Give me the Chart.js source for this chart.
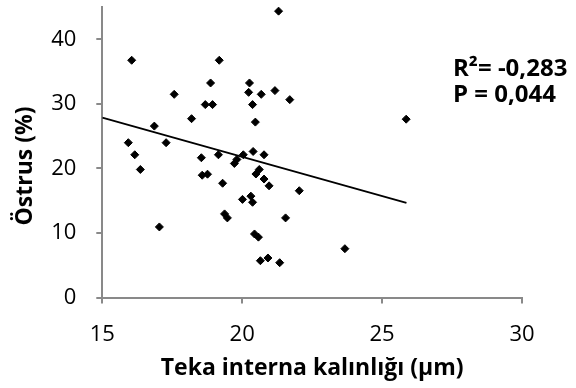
<!DOCTYPE html>
<html>
<head>
<meta charset="utf-8">
<script src="https://cdn.jsdelivr.net/npm/chart.js@4/dist/chart.umd.min.js"></script>
<style>
  html, body { margin: 0; padding: 0; background: #fff; }
  #wrap { width: 576px; height: 388px; }
</style>
</head>
<body>
<div id="wrap"><canvas id="estrusChart" width="576" height="388"></canvas></div>
<script>
// Theca interna thickness (µm) against oestrus rate (%)
const thicknessValues = [16.05, 19.18, 21.30, 18.87, 17.57, 20.26, 20.23, 20.68, 21.17, 21.70,
    18.68, 18.94, 20.37, 18.19, 20.47, 16.86, 25.86, 15.93, 17.28, 16.16,
    16.36, 17.04, 18.54, 19.15, 19.72, 19.81, 20.04, 20.39, 20.78, 18.57,
    18.76, 19.30, 19.37, 19.47, 20.61, 20.49, 20.78, 20.96, 22.04, 20.01,
    20.31, 20.37, 21.55, 20.44, 20.58, 23.67, 20.65, 20.92, 21.34];
const estrusValues = [36.75, 36.75, 44.36, 33.23, 31.47, 33.23, 31.78, 31.47, 32.05, 30.65,
    29.88, 29.88, 29.88, 27.70, 27.17, 26.55, 27.62, 23.98, 23.98, 22.11,
    19.83, 10.93, 21.65, 22.11, 20.76, 21.38, 22.11, 22.62, 22.11, 18.94,
    19.10, 17.70, 12.95, 12.33, 19.83, 19.13, 18.35, 17.30, 16.54, 15.20,
    15.70, 14.75, 12.33, 9.84, 9.35, 7.56, 5.70, 6.12, 5.39];

// linear trend line end points
const trendX = [15, 25.87];
const trendY = [27.86, 14.66];

const xTicks = [15, 20, 25, 30];
const yTicks = [0, 10, 20, 30, 40];
const statLines = ['R\u00B2= -0,283', 'P = 0,044'];
const yTitle = 'Östrus (%)';

const scatterPoints = thicknessValues.map((x, i) => ({ x: x, y: estrusValues[i] }));
const trendPoints = trendX.map((x, i) => ({ x: x, y: trendY[i] }));

const axisGrey = '#898989';
const fontFamily = '"Open Sans", Lato, sans-serif';

// y axis title plus the R² / P values beside the plot
const extraText = {
    id: 'extraText',
    afterDraw(chart) {
        const ctx = chart.ctx;
        ctx.save();
        ctx.fillStyle = '#000';

        ctx.font = 'bold 24px ' + fontFamily;
        ctx.textBaseline = 'alphabetic';
        ctx.textAlign = 'left';
        ctx.fillText(statLines[0], 453, 76);
        ctx.fillText(statLines[1], 453, 102);

        ctx.font = 'bold 23px ' + fontFamily;
        ctx.translate(25, 166);
        ctx.rotate(-Math.PI / 2);
        ctx.textAlign = 'center';
        ctx.textBaseline = 'middle';
        ctx.fillText(yTitle, 0, 0);
        ctx.restore();
    }
};

new Chart(document.getElementById('estrusChart'), {
    type: 'scatter',
    data: {
        datasets: [
            {
                data: scatterPoints,
                pointStyle: 'rectRot',
                pointRadius: 4,
                pointBorderWidth: 1,
                backgroundColor: '#000',
                borderColor: '#000'
            },
            {
                data: trendPoints,
                showLine: true,
                pointRadius: 0,
                borderColor: '#000',
                borderWidth: 1.8
            }
        ]
    },
    options: {
        responsive: false,
        animation: false,
        layout: { padding: { top: 7, right: 54, bottom: 0, left: 0 } },
        plugins: {
            legend: { display: false },
            tooltip: { enabled: false }
        },
        scales: {
            x: {
                type: 'linear',
                min: 15,
                max: 30,
                afterFit: scale => { scale.height = 90.5; },
                afterBuildTicks: scale => { scale.ticks = xTicks.map(v => ({ value: v })); },
                grid: { drawOnChartArea: false, drawTicks: true, tickLength: 6, color: axisGrey, lineWidth: 2 },
                border: { color: axisGrey, width: 2 },
                ticks: { color: '#000', font: { family: fontFamily, size: 22 }, padding: 18 },
                title: {
                    display: true,
                    text: 'Teka interna kalınlığı (µm)',
                    color: '#000',
                    font: { family: fontFamily, size: 23, weight: 'bold' },
                    padding: { top: 0, bottom: 6 }
                }
            },
            y: {
                type: 'linear',
                min: 0,
                max: 45,
                afterFit: scale => {
                    scale.width = 102.3;
                    scale.paddingTop = 0;
                    scale.paddingBottom = 0;
                },
                afterBuildTicks: scale => { scale.ticks = yTicks.map(v => ({ value: v })); },
                grid: { drawOnChartArea: false, drawTicks: true, tickLength: 6, color: axisGrey, lineWidth: 2 },
                border: { color: axisGrey, width: 2 },
                ticks: { color: '#000', font: { family: fontFamily, size: 22 }, padding: 20 }
            }
        }
    },
    plugins: [extraText]
});
</script>
</body>
</html>
